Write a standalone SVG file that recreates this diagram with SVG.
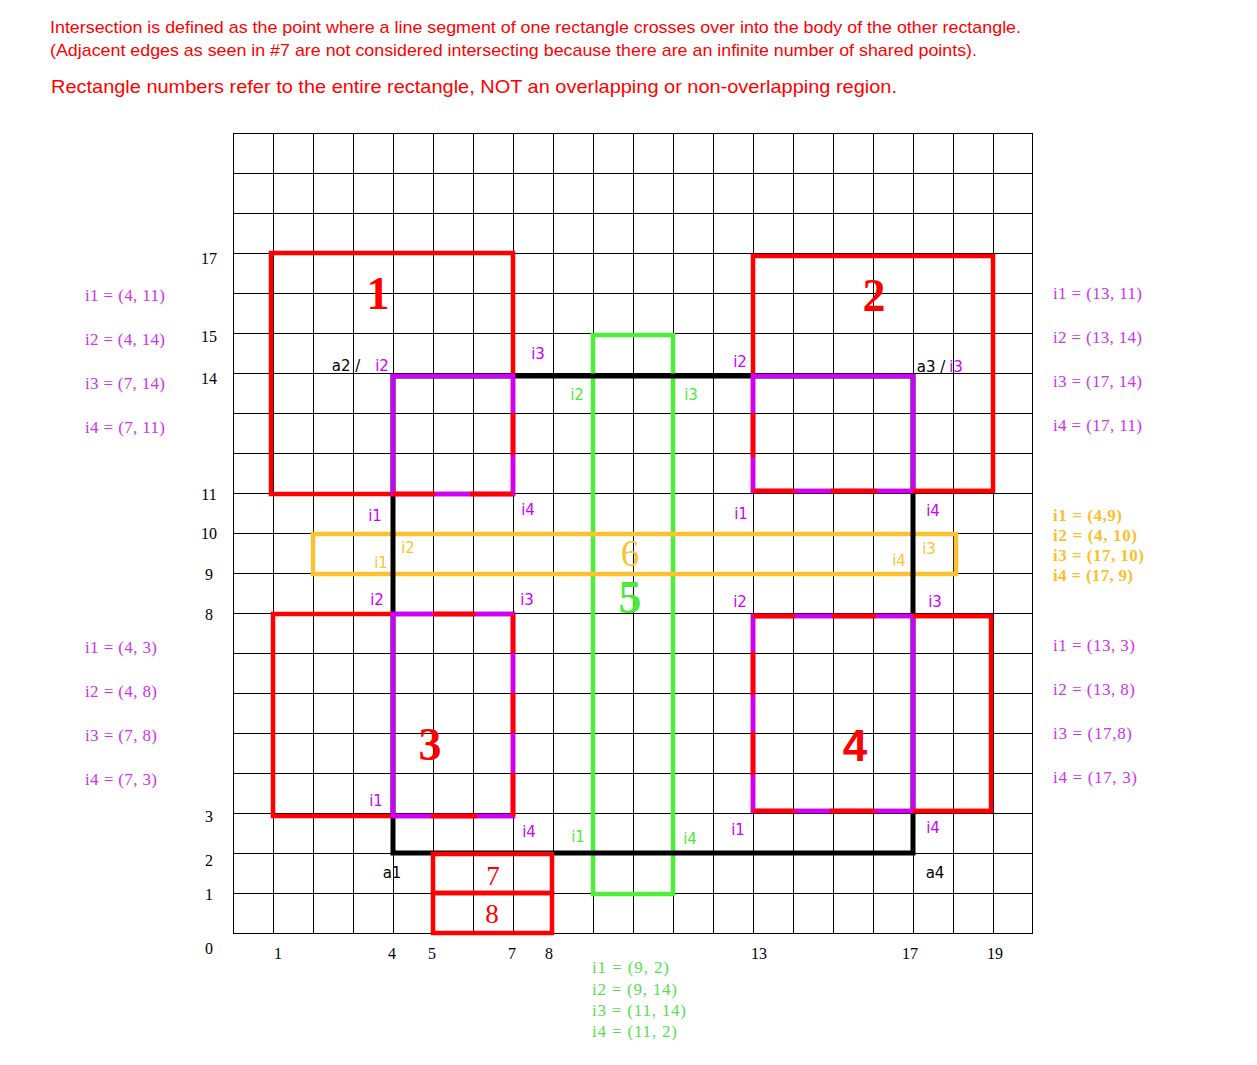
<svg xmlns="http://www.w3.org/2000/svg" width="1257" height="1065" viewBox="0 0 1257 1065">
<style>
.grid{stroke:#000;stroke-width:1;fill:none}
.ax{font-family:"Liberation Serif",serif;font-size:16px;fill:#000;text-anchor:middle}
.lb{font-family:"DejaVu Sans",sans-serif;font-size:15px;text-anchor:middle}
.pu{fill:#cc00ff}
.ye{fill:#fdc231}
.gr{fill:#4dea3a}
.bk{fill:#000}
.side{font-family:"Liberation Serif",serif;font-size:17px}
.sp{fill:#cc33ee}
.sy{fill:#fbbf2d;font-weight:bold}
.sg{fill:#55e050}
.red{stroke:#ff0000;stroke-width:4.5;fill:none}
.pur{stroke:#cc00ff;stroke-width:4.5;fill:none}
.num{font-family:"Liberation Serif",serif;text-anchor:middle}
.hd{font-family:"Liberation Sans",sans-serif;fill:#ff0000}
</style>
<rect width="1257" height="1065" fill="#fff"/>
<g id="header">
<text class="hd" x="50" y="33" font-size="17" textLength="971" lengthAdjust="spacingAndGlyphs">Intersection is defined as the point where a line segment of one rectangle crosses over into the body of the other rectangle.</text>
<text class="hd" x="50" y="56" font-size="17" textLength="927" lengthAdjust="spacingAndGlyphs">(Adjacent edges as seen in #7 are not considered intersecting because there are an infinite number of shared points).</text>
<text class="hd" x="51" y="93" font-size="19" textLength="846" lengthAdjust="spacingAndGlyphs">Rectangle numbers refer to the entire rectangle, NOT an overlapping or non-overlapping region.</text>
</g>
<g id="grid" class="grid">
<path d="M233.5 133.5V933.5M273.5 133.5V933.5M313.5 133.5V933.5M353.5 133.5V933.5M393.5 133.5V933.5M433.5 133.5V933.5M473.5 133.5V933.5M513.5 133.5V933.5M553.5 133.5V933.5M593.5 133.5V933.5M633.5 133.5V933.5M673.5 133.5V933.5M713.5 133.5V933.5M753.5 133.5V933.5M793.5 133.5V933.5M833.5 133.5V933.5M873.5 133.5V933.5M913.5 133.5V933.5M953.5 133.5V933.5M993.5 133.5V933.5M1032.5 133.5V933.5"/>
<path d="M233 133.5H1033M233 173.5H1033M233 213.5H1033M233 253.5H1033M233 293.5H1033M233 333.5H1033M233 373.5H1033M233 413.5H1033M233 453.5H1033M233 493.5H1033M233 533.5H1033M233 573.5H1033M233 613.5H1033M233 653.5H1033M233 693.5H1033M233 733.5H1033M233 773.5H1033M233 813.5H1033M233 853.5H1033M233 893.5H1033M233 933.5H1033"/>
</g>
<g id="axis-labels">
<text class="ax" x="209" y="264">17</text>
<text class="ax" x="209" y="342">15</text>
<text class="ax" x="209" y="384">14</text>
<text class="ax" x="209" y="500">11</text>
<text class="ax" x="209" y="539">10</text>
<text class="ax" x="209" y="580">9</text>
<text class="ax" x="209" y="620">8</text>
<text class="ax" x="209" y="822">3</text>
<text class="ax" x="209" y="866">2</text>
<text class="ax" x="209" y="900">1</text>
<text class="ax" x="209" y="954">0</text>
<text class="ax" x="278" y="959">1</text>
<text class="ax" x="392" y="959">4</text>
<text class="ax" x="432" y="959">5</text>
<text class="ax" x="512" y="959">7</text>
<text class="ax" x="549" y="959">8</text>
<text class="ax" x="759" y="959">13</text>
<text class="ax" x="910" y="959">17</text>
<text class="ax" x="995" y="959">19</text>
</g>
<g id="connectors">
<rect id="rect5" x="593" y="335" width="80" height="559" fill="none" stroke="#4def38" stroke-width="4.5"/>
<rect id="rect6" x="313" y="534" width="643" height="40" fill="none" stroke="#fdc231" stroke-width="4.5"/>
<path id="arect" d="M393 376V853H913V376Z" fill="none" stroke="#000" stroke-width="5"/>
</g>
<g id="rect1"><path class="red" d="M513 374V253H271V494H513V374"/></g>
<g id="rect2"><path class="red" d="M753 376V256H993V491H753V376"/></g>
<g id="rect3"><path class="red" d="M273 614H513V816H273Z"/></g>
<g id="rect4"><path class="red" d="M753 616H991V811H753Z"/></g>
<g id="rect7"><rect class="red" x="433" y="854" width="119" height="39"/></g>
<g id="rect8"><rect class="red" x="433" y="893" width="119" height="40"/></g>
<g id="overlap-A">
<rect class="pur" x="393" y="376" width="120" height="118"/>
<path class="red" d="M513 413V455M393 494H435M470 494H513"/>
</g>
<g id="overlap-B">
<rect class="pur" x="753" y="376" width="160" height="115"/>
<path class="red" d="M753 413V457M753 491H795M831 491H877M913 491H993"/>
</g>
<g id="overlap-C">
<rect class="pur" x="393" y="614" width="120" height="202"/>
<path class="red" d="M433 614H475M513 614V653M513 693V733M513 773V816M431 816H477"/>
</g>
<g id="overlap-D">
<rect class="pur" x="753" y="616" width="160" height="195"/>
<path class="red" d="M753 616H795M832 616H876M913 616H991M753 652V695M753 732V775M753 811H795M830 811H875M913 811H991"/>
</g>
<g id="numbers">
<text class="num" x="378" y="309" font-size="46" font-weight="bold" fill="#ff0000">1</text>
<text class="num" x="874" y="311" font-size="46" font-weight="bold" fill="#ff0000">2</text>
<text class="num" x="430" y="760" font-size="46" font-weight="bold" fill="#ff0000">3</text>
<text x="855" y="761" font-family="Liberation Sans,sans-serif" font-size="44" font-weight="bold" fill="#ff0000" text-anchor="middle">4</text>
<text class="num" x="630" y="613" font-size="46" font-weight="bold" fill="#4dea3a">5</text>
<text class="num" x="630" y="566" font-size="37" fill="#fdc231">6</text>
<text class="num" x="493" y="885" font-size="27" fill="#ff0000">7</text>
<text class="num" x="492" y="923" font-size="27" fill="#ff0000">8</text>
</g>
<g id="point-labels" class="lb">
<text class="bk" x="346" y="371">a2 /</text>
<text class="pu" x="382" y="371">i2</text>
<text class="pu" x="538" y="359">i3</text>
<text class="gr" x="577" y="400">i2</text>
<text class="gr" x="691" y="400">i3</text>
<text class="pu" x="740" y="367">i2</text>
<text class="bk" x="931" y="372">a3 /</text>
<text class="pu" x="956" y="372">i3</text>
<text class="pu" x="375" y="521">i1</text>
<text class="pu" x="528" y="515">i4</text>
<text class="pu" x="741" y="519">i1</text>
<text class="pu" x="933" y="516">i4</text>
<text class="ye" x="408" y="553">i2</text>
<text class="ye" x="381" y="568">i1</text>
<text class="ye" x="929" y="554">i3</text>
<text class="ye" x="899" y="566">i4</text>
<text class="pu" x="377" y="605">i2</text>
<text class="pu" x="527" y="605">i3</text>
<text class="pu" x="740" y="607">i2</text>
<text class="pu" x="935" y="607">i3</text>
<text class="pu" x="376" y="806">i1</text>
<text class="pu" x="529" y="837">i4</text>
<text class="gr" x="578" y="842">i1</text>
<text class="gr" x="690" y="844">i4</text>
<text class="pu" x="738" y="835">i1</text>
<text class="pu" x="933" y="833">i4</text>
<text class="bk" x="392" y="878">a1</text>
<text class="bk" x="935" y="878">a4</text>
</g>
<g id="side-labels" class="side">
<text class="sp" x="85" y="301" textLength="80">i1 = (4, 11)</text>
<text class="sp" x="85" y="345" textLength="80">i2 = (4, 14)</text>
<text class="sp" x="85" y="389" textLength="80">i3 = (7, 14)</text>
<text class="sp" x="85" y="433" textLength="80">i4 = (7, 11)</text>
<text class="sp" x="85" y="653" textLength="72">i1 = (4, 3)</text>
<text class="sp" x="85" y="697" textLength="72">i2 = (4, 8)</text>
<text class="sp" x="85" y="741" textLength="72">i3 = (7, 8)</text>
<text class="sp" x="85" y="785" textLength="72">i4 = (7, 3)</text>
<text class="sp" x="1053" y="299" textLength="89">i1 = (13, 11)</text>
<text class="sp" x="1053" y="343" textLength="89">i2 = (13, 14)</text>
<text class="sp" x="1053" y="387" textLength="89">i3 = (17, 14)</text>
<text class="sp" x="1053" y="431" textLength="89">i4 = (17, 11)</text>
<text class="sy" x="1053" y="521" textLength="69">i1 = (4,9)</text>
<text class="sy" x="1053" y="541" textLength="84">i2 = (4, 10)</text>
<text class="sy" x="1053" y="561" textLength="91">i3 = (17, 10)</text>
<text class="sy" x="1053" y="581" textLength="80">i4 = (17, 9)</text>
<text class="sp" x="1053" y="651" textLength="82">i1 = (13, 3)</text>
<text class="sp" x="1053" y="695" textLength="82">i2 = (13, 8)</text>
<text class="sp" x="1053" y="739" textLength="79">i3 =  (17,8)</text>
<text class="sp" x="1053" y="783" textLength="84">i4 =  (17, 3)</text>
<text class="sg" x="592" y="973" textLength="77">i1 =  (9, 2)</text>
<text class="sg" x="592" y="995" textLength="85">i2 = (9, 14)</text>
<text class="sg" x="592" y="1016" textLength="94">i3 =  (11, 14)</text>
<text class="sg" x="592" y="1037" textLength="85">i4 =  (11, 2)</text>
</g>
</svg>
